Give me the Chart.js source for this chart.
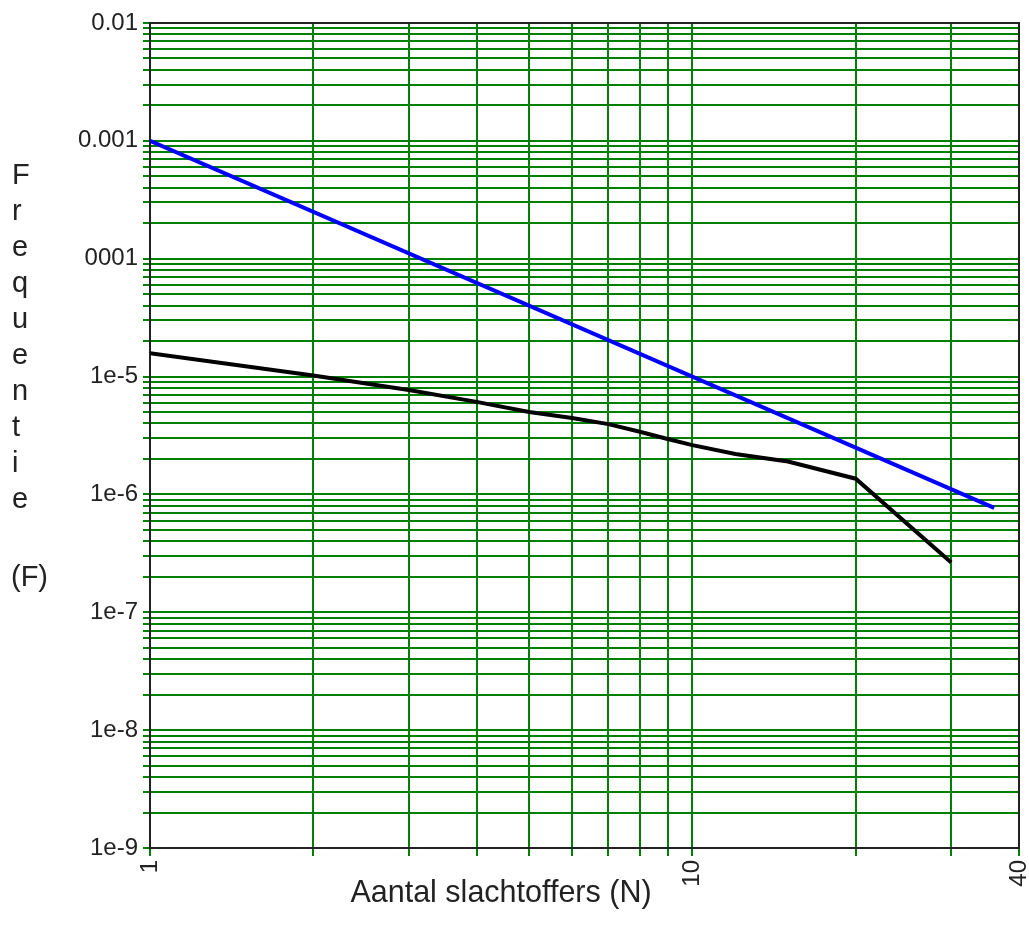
<!DOCTYPE html>
<html>
<head>
<meta charset="utf-8">
<script src="https://cdn.jsdelivr.net/npm/chart.js@4.4.0/dist/chart.umd.min.js"></script>
<style>
  html, body { margin: 0; padding: 0; background: #fff; }
  #wrap { width: 1029px; height: 925px; position: relative; }
</style>
</head>
<body>
<div id="wrap"><canvas id="fnChart"></canvas></div>
<script>
// ─── Data ────────────────────────────────────────────────────────────────────
const xGridValues  = [1, 2, 3, 4, 5, 6, 7, 8, 9, 10, 20, 30, 40];
const xTickLabels  = ['1', '10', '40'];
const xTickValues  = [1, 10, 40];

const yDecades      = [1e-9, 1e-8, 1e-7, 1e-6, 1e-5, 1e-4, 1e-3, 1e-2];
const yDecadeLabels = ['1e-9', '1e-8', '1e-7', '1e-6', '1e-5', '0001', '0.001', '0.01'];
const yMinorSteps   = [1, 2, 3, 4, 5, 6, 7, 8, 9];

// norm line (blue)
const normN = [1, 36];
const normF = [1e-3, 7.7e-7];

// computed risk curve (black)
const riskN = [1, 2, 3, 4, 5, 6, 7, 8, 9, 10, 12, 15, 20, 30];
const riskF = [1.58e-5, 1.02e-5, 7.7e-6, 6.1e-6, 5.0e-6, 4.45e-6, 3.95e-6, 3.4e-6, 2.95e-6, 2.62e-6, 2.2e-6, 1.9e-6, 1.36e-6, 2.65e-7];

const yTitleLetters = ['F', 'r', 'e', 'q', 'u', 'e', 'n', 't', 'i', 'e'];
const yTitleUnit    = '(F)';
const xTitle        = 'Aantal slachtoffers (N)';

// ─── Helpers ─────────────────────────────────────────────────────────────────
const FONT = '"Liberation Sans", Arial, sans-serif';
const GRID = 'rgb(0,128,0)';

const yGridValues = [];
yDecades.forEach((d, i) => {
  if (i === yDecades.length - 1) { yGridValues.push(d); return; }
  yMinorSteps.forEach(m => yGridValues.push(m * d));
});

const sameLog = (a, b) => Math.abs(Math.log10(a) - Math.log10(b)) < 1e-6;
const toPoints = (xs, ys) => xs.map((x, i) => ({ x, y: ys[i] }));

// frame + titles
const framePlugin = {
  id: 'frame',
  beforeDatasetsDraw(chart) {
    const { ctx, chartArea: a } = chart;
    ctx.save();
    ctx.strokeStyle = '#222';
    ctx.lineWidth = 2;
    ctx.strokeRect(a.left, a.top, a.right - a.left, a.bottom - a.top);
    ctx.restore();
  },
  afterDraw(chart) {
    const ctx = chart.ctx;
    ctx.save();
    ctx.fillStyle = '#222';
    ctx.textBaseline = 'alphabetic';
    ctx.textAlign = 'left';
    ctx.font = '29px ' + FONT;
    yTitleLetters.forEach((ch, i) => ctx.fillText(ch, 12, 184 + i * 36));
    ctx.fillText(yTitleUnit, 11, 586);
    ctx.font = '30.5px ' + FONT;
    ctx.textAlign = 'center';
    ctx.fillText(xTitle, 501, 902);
    ctx.restore();
  }
};

// ─── Chart ───────────────────────────────────────────────────────────────────
new Chart(document.getElementById('fnChart'), {
  type: 'line',
  data: {
    datasets: [
      {
        data: toPoints(normN, normF),
        borderColor: '#0000ff', borderWidth: 4,
        pointRadius: 0, tension: 0, fill: false,
      },
      {
        data: toPoints(riskN, riskF),
        borderColor: '#000', borderWidth: 4,
        pointRadius: 0, tension: 0, fill: false,
      },
    ]
  },
  options: {
    responsive: true, maintainAspectRatio: false, animation: false,
    layout: { padding: { top: 23, right: 10, left: 0, bottom: 0 } },
    plugins: { legend: { display: false }, tooltip: { enabled: false } },
    scales: {
      x: {
        type: 'logarithmic', min: 1, max: 40,
        afterBuildTicks: s => { s.ticks = xGridValues.map(v => ({ value: v })); },
        afterFit: s => { s.height = 77; s.paddingLeft = 0; s.paddingRight = 0; },
        grid: { color: GRID, lineWidth: 2, tickLength: 8, tickColor: GRID },
        border: { display: false },
        ticks: {
          autoSkip: false, minRotation: 90, maxRotation: 90, padding: 4,
          color: '#222', font: { family: FONT, size: 24 },
          callback: v => {
            const i = xTickValues.findIndex(t => sameLog(t, v));
            return i >= 0 ? xTickLabels[i] : '';
          }
        }
      },
      y: {
        type: 'logarithmic', min: 1e-9, max: 1e-2,
        afterBuildTicks: s => { s.ticks = yGridValues.map(v => ({ value: v })); },
        afterFit: s => { s.width = 150; s.paddingTop = 0; s.paddingBottom = 0; },
        grid: { color: GRID, lineWidth: 2, tickLength: 7, tickColor: GRID },
        border: { display: false },
        ticks: {
          autoSkip: false, padding: 5,
          color: '#222', font: { family: FONT, size: 24 },
          callback: v => {
            const i = yDecades.findIndex(d => sameLog(d, v));
            return i >= 0 ? yDecadeLabels[i] : '';
          }
        }
      }
    }
  },
  plugins: [framePlugin]
});
</script>
</body>
</html>
